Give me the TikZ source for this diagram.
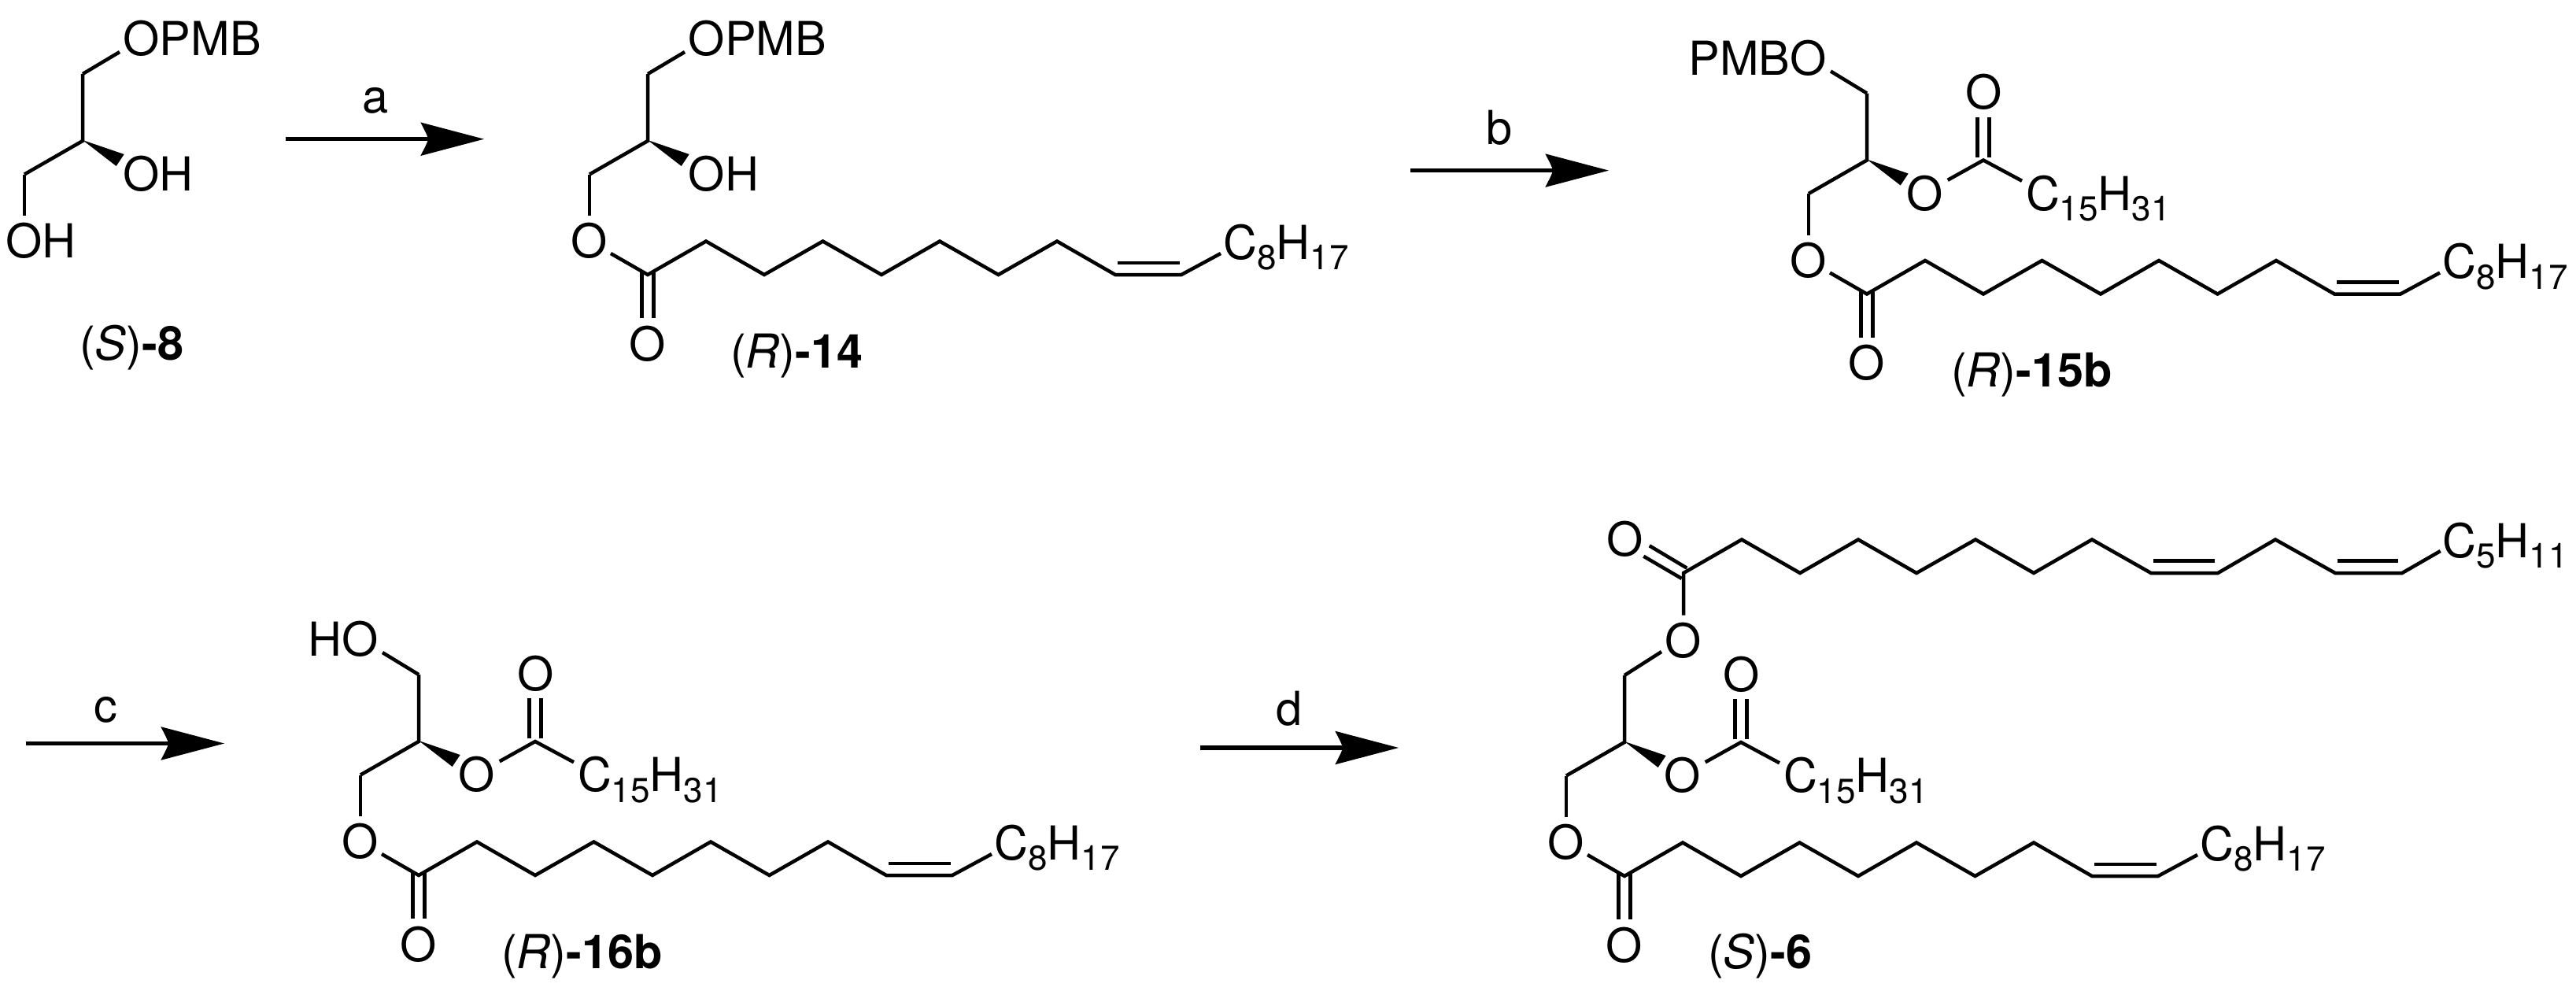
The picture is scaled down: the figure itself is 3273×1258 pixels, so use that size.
\documentclass[tikz,border=0pt]{standalone}
\usepackage{fontspec}
\setmainfont{TeX Gyre Heros}
\newcommand{\sbs}[1]{\raisebox{-13.5pt}{\fontsize{44}{46}\selectfont #1}}
\tikzset{
  bond/.style={line width=4.5pt,line join=miter,miter limit=10},
  atomw/.style={anchor=base west,inner sep=0pt,outer sep=0pt,font=\fontsize{59.5}{62}\selectfont},
  atome/.style={anchor=base east,inner sep=0pt,outer sep=0pt,font=\fontsize{59.5}{62}\selectfont},
  atomc/.style={anchor=base,inner sep=0pt,outer sep=0pt,font=\fontsize{59.5}{62}\selectfont},
  shaft/.style={line width=5.5pt},
}
% core: C1-C2-C3 with the wedge at C2
\newcommand{\core}[1]{%
  \coordinate (#1c2) at (0,0);
  \coordinate (#1c1) at (0,-85);
  \coordinate (#1c3) at (-74,42.5);
  \coordinate (#1wa) at (52.7,17);
  \coordinate (#1wb) at (42.7,32);
  \draw[bond] (#1c1) -- (#1c2) -- (#1c3);
  \fill (0,-1) -- (#1wa) -- (#1wb) -- cycle;
}
% sn-3 ester with oleoyl chain
\newcommand{\oleoyl}[1]{%
  \coordinate (#1oa) at (-74,95);
  \coordinate (#1ob) at (-47,143);
  \node[atomc] (#1o3) at (-74,148.5) {O};
  \coordinate (#1k) at (0,170);
  \coordinate (#1k1) at (-7.5,166); \coordinate (#1k2) at (7.5,166);
  \coordinate (#1k3) at (-7.5,225); \coordinate (#1k4) at (7.5,225);
  \node[atomc] (#1ok) at (0,279) {O};
  \coordinate (#1p1) at (74,127.5); \coordinate (#1p2) at (148,170);
  \coordinate (#1p3) at (222.5,127.5); \coordinate (#1p4) at (297,170);
  \coordinate (#1p5) at (371,127.5); \coordinate (#1p6) at (445.5,170);
  \coordinate (#1p7) at (520,127.5); \coordinate (#1p8) at (594,170);
  \coordinate (#1p9) at (678,170); \coordinate (#1p10) at (728,143);
  \coordinate (#1da) at (597.3,154.8); \coordinate (#1db) at (675.7,154.8);
  \node[atomw] (#1r) at (731.4,150) {C\sbs{8}H\sbs{17}};
  \draw[bond] (#1c3) -- (#1oa);
  \draw[bond] (#1ob) -- (#1k) -- (#1p1) -- (#1p2) -- (#1p3) -- (#1p4) -- (#1p5) -- (#1p6) -- (#1p7) -- (#1p8) -- (#1p9) -- (#1p10);
  \draw[bond] (#1da) -- (#1db);
  \draw[bond] (#1k1) -- (#1k3);
  \draw[bond] (#1k2) -- (#1k4);
}
% sn-2 palmitoyl
\newcommand{\palm}[1]{%
  \node[atomc] (#1o2) at (74,63.7) {O};
  \coordinate (#1qa) at (102.7,25.3);
  \coordinate (#1q) at (148,0);
  \coordinate (#1qb) at (197,26.3);
  \coordinate (#1q1) at (140.5,-4); \coordinate (#1q2) at (155.5,-4);
  \coordinate (#1q3) at (140.5,-54.7); \coordinate (#1q4) at (155.5,-54.7);
  \node[atomc] (#1oq) at (148.5,-64.7) {O};
  \node[atomw] (#1rp) at (202,63.5) {C\sbs{15}H\sbs{31}};
  \draw[bond] (#1qa) -- (#1q) -- (#1qb);
  \draw[bond] (#1q1) -- (#1q3);
  \draw[bond] (#1q2) -- (#1q4);
}
% reaction arrow: name, x start, x tip, y, letter, letter x, letter baseline
\newcommand{\rxn}[7]{%
  \coordinate (#1s) at (#2,#4);
  \coordinate (#1t) at (#3,#4);
  \coordinate (#1n) at ([xshift=-71pt]#1t);
  \coordinate (#1u) at ([shift={(-80.7pt,-21.3pt)}]#1t);
  \coordinate (#1d) at ([shift={(-80.7pt,21.3pt)}]#1t);
  \draw[shaft] (#1s) -- (#1n);
  \fill (#1t) -- (#1u) .. controls ([shift={(-4pt,-10pt)}]#1n) and ([shift={(-1pt,-5pt)}]#1n) .. (#1n)
        .. controls ([shift={(-1pt,5pt)}]#1n) and ([shift={(-4pt,10pt)}]#1n) .. (#1d) -- cycle;
  \node[atomc] (#1l) at (#6,#7) {#5};
}
\begin{document}
\begin{tikzpicture}[x=1pt,y=-1pt]
\useasboundingbox (0,0) rectangle (3273,1258);
\fill[white] (0,0) rectangle (3273,1258);

% (S)-8
\begin{scope}[shift={(105,179)}]
  \core{a}
  \coordinate (ae1) at (47,-113);
  \coordinate (ae3) at (-74,95);
  \draw[bond] (ac1) -- (ae1);
  \draw[bond] (ac3) -- (ae3);
  \node[atomw] (aopmb) at (51.7,-108.5) {OPMB};
  \node[atomw] (aoh) at (51.7,63.5) {OH};
  \node[atomw] (aoh3) at (-97.3,148.5) {OH};
  \node[atomw] (alabel) at (-4,278) {(\textit{S})\textbf{-8}};
\end{scope}

\rxn{ra}{362.7}{615}{176.7}{a}{476.7}{143}

% (R)-14
\begin{scope}[shift={(823,179)}]
  \core{b}
  \oleoyl{b}
  \coordinate (be1) at (47,-113);
  \draw[bond] (bc1) -- (be1);
  \node[atomw] (bopmb) at (51.7,-108.5) {OPMB};
  \node[atomw] (boh) at (51.7,63.5) {OH};
  \node[atomw] (blabel) at (105,288) {(\textit{R})\textbf{-14}};
\end{scope}

\rxn{rb}{1792}{2044}{216.6}{b}{1905}{183}

% (R)-15b
\begin{scope}[shift={(2372,203.5)}]
  \core{c}
  \oleoyl{c}
  \palm{c}
  \coordinate (ce1) at (-46,-113);
  \draw[bond] (cc1) -- (ce1);
  \node[atome] (cpmbo) at (-51.7,-108.5) {PMBO};
  \node[atomw] (clabel) at (107,288) {(\textit{R})\textbf{-15b}};
\end{scope}

\rxn{rc}{32.5}{285}{944.5}{c}{134}{917}

% (R)-16b
\begin{scope}[shift={(532,942)}]
  \core{d}
  \oleoyl{d}
  \palm{d}
  \coordinate (de1) at (-46,-113);
  \draw[bond] (dc1) -- (de1);
  \node[atome] (dho) at (-51.7,-108.5) {HO};
  \node[atomw] (dlabel) at (105,288) {(\textit{R})\textbf{-16b}};
\end{scope}

\rxn{rd}{1525}{1777}{950}{d}{1638}{921}

% (S)-6
\begin{scope}[shift={(2064,943)}]
  \core{e}
  \oleoyl{e}
  \palm{e}
  \node[atomw] (elabel) at (106,287) {(\textit{S})\textbf{-6}};
  % sn-1 linoleoyl
  \coordinate (ee1) at (47,-115);
  \node[atomc] (eo1) at (74.3,-108) {O};
  \coordinate (eo1a) at (75,-161.3);
  \coordinate (eu) at (75,-215);
  \coordinate (eu2) at (149,-257.5);
  \coordinate (eu3) at (223,-215);
  \coordinate (eu4) at (297,-257.5);
  \coordinate (eu5) at (371,-215);
  \coordinate (eu6) at (446,-257.5);
  \coordinate (eu7) at (520,-215);
  \coordinate (eu8) at (594,-257.5);
  \coordinate (eu9) at (669,-215);
  \coordinate (eu10) at (754,-215);
  \coordinate (eu11) at (827,-257.5);
  \coordinate (eu12) at (903,-215);
  \coordinate (eu13) at (988,-215);
  \coordinate (eu14) at (1036.7,-243);
  \coordinate (ev1) at (672,-230.5); \coordinate (ev2) at (750,-230.5);
  \coordinate (ev3) at (906,-230.5); \coordinate (ev4) at (983,-230.5);
  \coordinate (ew1) at (31.7,-249.7); \coordinate (ew2) at (79.3,-221.3);
  \coordinate (ew3) at (24.3,-236.3); \coordinate (ew4) at (72.7,-208);
  \node[atomc] (eou) at (0.3,-237) {O};
  \node[atomw] (erl) at (1039.4,-235) {C\sbs{5}H\sbs{11}};
  \draw[bond] (ec1) -- (ee1);
  \draw[bond] (eo1a) -- (eu) -- (eu2) -- (eu3) -- (eu4) -- (eu5) -- (eu6) -- (eu7) -- (eu8) -- (eu9) -- (eu10) -- (eu11) -- (eu12) -- (eu13) -- (eu14);
  \draw[bond] (ev1) -- (ev2);
  \draw[bond] (ev3) -- (ev4);
  \draw[bond] (ew1) -- (ew2);
  \draw[bond] (ew3) -- (ew4);
\end{scope}
\end{tikzpicture}
\end{document}
